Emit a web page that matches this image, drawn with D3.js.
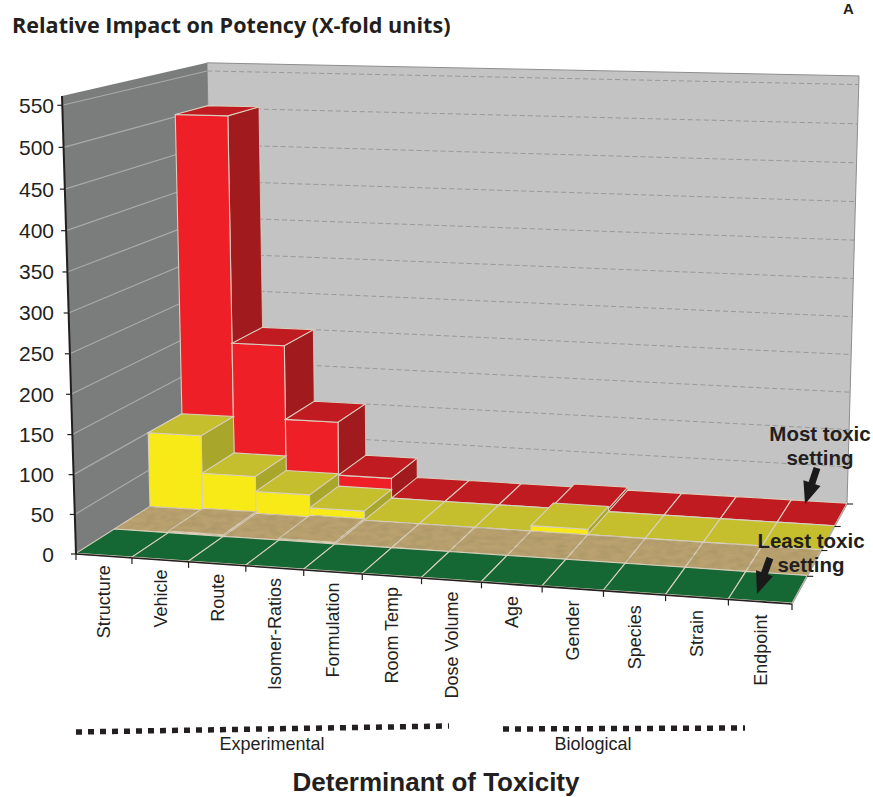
<!DOCTYPE html>
<html>
<head>
<meta charset="utf-8">
<script src="https://cdn.jsdelivr.net/npm/d3@7"></script>
<style>
  html, body { margin: 0; padding: 0; background: #fff; }
  svg { display: block; }
  text { fill: #231f20; }
</style>
</head>
<body>
<svg id="chart" width="873" height="797"></svg>
<script>
// Determinants of toxicity and the potency shift each one causes per setting.
const categories = ["Structure", "Vehicle", "Route", "Isomer-Ratios", "Formulation", "Room Temp",
                    "Dose Volume", "Age", "Gender", "Species", "Strain", "Endpoint"];
const settings = ["green", "tan", "yellow", "red"]; // front row to back row
const greenValues  = [1, 1, 1, 1, 1, 1, 1, 1, 1, 1, 1, 1];
const tanValues    = [1, 3, 1, 3, 1, 1, 1, 1, 1, 1, 1, 1];
const yellowValues = [100, 50, 30, 13, 1, 1, 1, 8, 1, 1, 1, 1];
const redValues    = [503, 200, 100, 28, 1, 1, 1, 5, 1, 1, 1, 1];
const yTicks = d3.range(0, 551, 50);
const groups = [
  { label: "Experimental", from: [76, 732], to: [449, 726], labelX: 272 },
  { label: "Biological",   from: [503, 729], to: [745, 728], labelX: 593 }
];

const palette = {
  green:  { front: "#17683a", top: "#156734", side: "#0f5029" },
  tan:    { front: "#e6d3a6", top: "#b9a170", side: "#9b8759" },
  yellow: { front: "#f8ea17", top: "#c5be2d", side: "#a9a62c" },
  red:    { front: "#ee1f26", top: "#c11b22", side: "#a01a1e" }
};

// Frame of the 3D box, in page pixels: four floor corners plus two top corners.
const floor = { fl: [76, 554], fr: [792, 604], br: [847, 504], bl: [215, 466] };
const topFL = [62, 96], topBR = [859, 77];

// Single projective camera fitted to the frame.
function makeCamera() {
  const [x0, y0] = floor.fl, [x1, y1] = floor.fr, [x2, y2] = floor.br, [x3, y3] = floor.bl;
  const dx1 = x1 - x2, dx2 = x3 - x2, sx = x0 - x1 + x2 - x3;
  const dy1 = y1 - y2, dy2 = y3 - y2, sy = y0 - y1 + y2 - y3;
  const den = dx1 * dy2 - dx2 * dy1;
  const g = (sx * dy2 - dx2 * sy) / den, h = (dx1 * sy - sx * dy1) / den;
  const a = x1 - x0 + g * x1, b = x3 - x0 + h * x3;
  const d = y1 - y0 + g * y1, e = y3 - y0 + h * y3;
  const w = 1 + g + h;
  const k = (w * (topBR[0] - x2) + x0 - topFL[0]) / (topFL[0] - topBR[0]);
  const c = topFL[0] * (1 + k) - x0, f = topFL[1] * (1 + k) - y0;
  return (u, v, t) => {
    const q = g * u + h * v + k * t + 1;
    return [(a * u + b * v + c * t + x0) / q, (d * u + e * v + f * t + y0) / q];
  };
}
const camera = makeCamera();

const xScale = d3.scaleBand(categories, [0, 1]);
const zScale = d3.scaleBand(settings, [0, 1]);
const hScale = d3.scaleLinear([0, 561], [0, 1]);
const project = (u, v, value) => camera(u, v, hScale(value));

const corner = {
  fl: project(0, 0, 0), fr: project(1, 0, 0), br: project(1, 1, 0), bl: project(0, 1, 0),
  tfl: project(0, 0, 561), tbl: project(0, 1, 561), tbr: project(1, 1, 561)
};

const svg = d3.select("#chart");
const poly = d3.line();
const closed = pts => poly(pts) + "Z";

// Paper grain for the tan row.
const defs = svg.append("defs");
const grain = defs.append("filter").attr("id", "grain").attr("x", 0).attr("y", 0).attr("width", 1).attr("height", 1);
grain.append("feTurbulence").attr("type", "fractalNoise").attr("baseFrequency", "0.09 0.22")
  .attr("numOctaves", 2).attr("seed", 4).attr("result", "n");
grain.append("feColorMatrix").attr("in", "n").attr("type", "matrix")
  .attr("values", "0 0 0 0 0.35  0 0 0 0 0.27  0 0 0 0 0.12  1.1 0 0 0 -0.42").attr("result", "c");
grain.append("feComposite").attr("in", "c").attr("in2", "SourceAlpha").attr("operator", "in").attr("result", "m");
const gm = grain.append("feMerge");
gm.append("feMergeNode").attr("in", "SourceGraphic");
gm.append("feMergeNode").attr("in", "m");

// Walls
const walls = svg.append("g");
walls.append("path").attr("d", closed([corner.tbl, corner.tbr, corner.br, corner.bl]))
  .attr("fill", "#c3c3c3").attr("stroke", "#8d8d8d").attr("stroke-width", 1);
walls.append("path").attr("d", closed([corner.tfl, corner.tbl, corner.bl, corner.fl])).attr("fill", "#7b7c7c");

// Gridlines on both walls
const grid = svg.append("g");
grid.selectAll(".grid-left").data(yTicks.filter(d => d > 0)).join("line").attr("class", "grid-left")
  .attr("x1", d => project(0, 0, d)[0]).attr("y1", d => project(0, 0, d)[1])
  .attr("x2", d => project(0, 1, d)[0]).attr("y2", d => project(0, 1, d)[1])
  .attr("stroke", "#a9aaaa").attr("stroke-width", 1.2);
grid.selectAll(".grid-back").data(yTicks.filter(d => d > 0)).join("line").attr("class", "grid-back")
  .attr("x1", d => project(0, 1, d)[0]).attr("y1", d => project(0, 1, d)[1])
  .attr("x2", d => project(1, 1, d)[0]).attr("y2", d => project(1, 1, d)[1])
  .attr("stroke", "#989898").attr("stroke-width", 1).attr("stroke-dasharray", "5 3");

// Bars, painted back row first and left to right within a row
const rows = [
  { key: "red", values: redValues },
  { key: "yellow", values: yellowValues },
  { key: "tan", values: tanValues },
  { key: "green", values: greenValues }
];
const edge = "#d9cfbd";
rows.forEach(row => {
  const colors = palette[row.key];
  const v0 = zScale(row.key), v1 = v0 + zScale.bandwidth();
  const g = svg.append("g").attr("class", "row-" + row.key);
  if (row.key === "tan") g.attr("filter", "url(#grain)");
  const bars = g.selectAll("g").data(categories.map((c, i) => ({ c, value: row.values[i] }))).join("g");
  bars.each(function (d) {
    const u0 = xScale(d.c), u1 = u0 + xScale.bandwidth();
    const bar = d3.select(this);
    const side = [project(u1, v0, 0), project(u1, v1, 0), project(u1, v1, d.value), project(u1, v0, d.value)];
    const front = [project(u0, v0, 0), project(u1, v0, 0), project(u1, v0, d.value), project(u0, v0, d.value)];
    const top = [project(u0, v0, d.value), project(u1, v0, d.value), project(u1, v1, d.value), project(u0, v1, d.value)];
    bar.append("path").attr("d", closed(side)).attr("fill", colors.side).attr("stroke", edge).attr("stroke-width", 0.8);
    bar.append("path").attr("d", closed(front)).attr("fill", colors.front).attr("stroke", edge).attr("stroke-width", 1.1);
    bar.append("path").attr("d", closed(top)).attr("fill", colors.top).attr("stroke", edge).attr("stroke-width", 1.1);
  });
});

// Axes
const axes = svg.append("g").attr("stroke", "#231f20").attr("fill", "none");
axes.append("path").attr("d", poly([corner.tfl, corner.fl])).attr("stroke-width", 2);
axes.append("path").attr("d", poly([corner.fl, corner.fr])).attr("stroke-width", 1.6);
axes.append("path").attr("d", poly([corner.fr, corner.br])).attr("stroke", "#a9a9a9").attr("stroke-width", 1.4);

axes.selectAll(".ytick").data(yTicks).join("line").attr("class", "ytick")
  .attr("x1", d => project(0, 0, d)[0]).attr("y1", d => project(0, 0, d)[1])
  .attr("x2", d => project(0, 0, d)[0] - 5).attr("y2", d => project(0, 0, d)[1])
  .attr("stroke-width", 1.2);

const xEdges = categories.map(c => xScale(c)).concat(1);
axes.selectAll(".xtick").data(xEdges).join("line").attr("class", "xtick")
  .attr("x1", d => project(d, 0, 0)[0]).attr("y1", d => project(d, 0, 0)[1])
  .attr("x2", d => project(d, 0, 0)[0]).attr("y2", d => project(d, 0, 0)[1] + 6)
  .attr("stroke-width", 1.2);

const zEdges = settings.map(s => zScale(s) + zScale.bandwidth());
axes.selectAll(".ztick").data(zEdges).join("line").attr("class", "ztick")
  .attr("x1", d => project(1, d, 0)[0]).attr("y1", d => project(1, d, 0)[1])
  .attr("x2", d => project(1, d, 0)[0] + 6).attr("y2", d => project(1, d, 0)[1])
  .attr("stroke-width", 1.1);

const sans = "'Liberation Sans', Arial, sans-serif";
svg.append("g").selectAll("text").data(yTicks).join("text")
  .attr("x", 54).attr("y", d => project(0, 0, d)[1] + 7.5)
  .attr("text-anchor", "end").attr("font-family", sans).attr("font-size", 21)
  .text(d => d);

const labelOffset = d3.scaleLinear([0, 1], [9, 13]);
svg.append("g").selectAll("text").data(categories).join("text")
  .attr("transform", c => {
    const u = xScale(c) + xScale.bandwidth() / 2;
    const p = project(u, 0, 0);
    return `translate(${p[0] + 6.5},${p[1] + labelOffset(u)}) rotate(-90)`;
  })
  .attr("text-anchor", "end").attr("font-family", sans).attr("font-size", 18)
  .text(c => c);

// Group brackets beneath the categories
const groupG = svg.append("g").selectAll("g").data(groups).join("g");
groupG.append("path").attr("d", d => poly([d.from, d.to]))
  .attr("stroke", "#231f20").attr("stroke-width", 5.5).attr("stroke-dasharray", "6 6").attr("fill", "none");
groupG.append("text").attr("x", d => d.labelX).attr("y", 750).attr("text-anchor", "middle")
  .attr("font-family", sans).attr("font-size", 18).text(d => d.label);

// Headings
svg.append("text").attr("x", 12).attr("y", 33).attr("font-family", "'Open Sans', sans-serif")
  .attr("font-weight", 700).attr("font-size", 21.6).text("Relative Impact on Potency (X-fold units)");
svg.append("text").attr("x", 843).attr("y", 14).attr("font-family", sans)
  .attr("font-weight", 700).attr("font-size", 15).text("A");
svg.append("text").attr("x", 436).attr("y", 791).attr("text-anchor", "middle").attr("font-family", sans)
  .attr("font-weight", 700).attr("font-size", 26).text("Determinant of Toxicity");

// Callouts
const callouts = [
  { lines: ["Most toxic", "setting"], x: 820, y: [441, 465], arrow: [[817, 468], [805, 504]] },
  { lines: ["Least toxic", "setting"], x: 811, y: [548, 572], arrow: [[770, 558], [757, 594]] }
];
function arrowShape([a, b]) {
  const dx = b[0] - a[0], dy = b[1] - a[1], len = Math.hypot(dx, dy);
  const ux = dx / len, uy = dy / len, nx = -uy, ny = ux;
  const neck = [a[0] + ux * (len - 22), a[1] + uy * (len - 22)];
  const at = (p, s) => [p[0] + nx * s, p[1] + ny * s];
  return [at(a, 3.5), at(neck, 3.5), at(neck, 9), b, at(neck, -9), at(neck, -3.5), at(a, -3.5)];
}
callouts.forEach(c => {
  c.lines.forEach((line, i) => svg.append("text").attr("x", c.x).attr("y", c.y[i])
    .attr("text-anchor", "middle").attr("font-family", sans).attr("font-weight", 700)
    .attr("font-size", 20.5).text(line));
  svg.append("path").attr("d", closed(arrowShape(c.arrow))).attr("fill", "#1a1a1a");
});
</script>
</body>
</html>
